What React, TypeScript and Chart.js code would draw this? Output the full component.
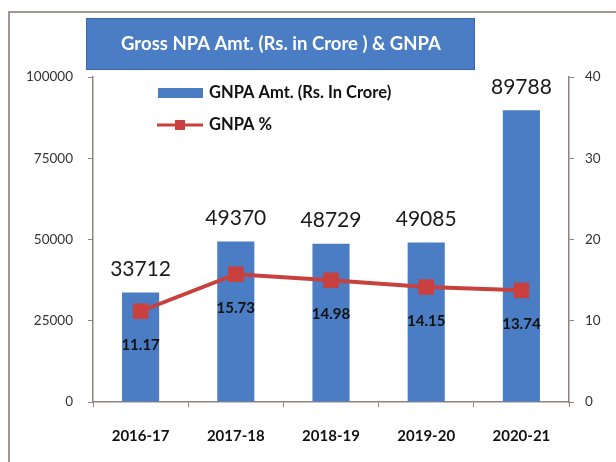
import React, { useEffect, useRef } from "react";
import { Chart, registerables } from "chart.js";

Chart.register(...registerables);

const categories = ["2016-17", "2017-18", "2018-19", "2019-20", "2020-21"];
const gnpaAmount = [33712, 49370, 48729, 49085, 89788];
const gnpaPercent = [11.17, 15.73, 14.98, 14.15, 13.74];
const leftTicks = [0, 25000, 50000, 75000, 100000];
const rightTicks = [0, 10, 20, 30, 40];

const titleText = "Gross NPA Amt. (Rs. in Crore ) & GNPA";
const legendBar = "GNPA Amt. (Rs. In Crore)";
const legendLine = "GNPA %";

const BLUE = "#4a7dc4";
const RED = "#c8413e";
const AXIS = "#8f8380";
const FONT = "Lato, 'Open Sans', sans-serif";

const decorPlugin = {
  id: "decor",
  beforeDraw(chart: any) {
    const ctx = chart.ctx;
    ctx.save();
    ctx.fillStyle = "#ffffff";
    ctx.fillRect(0, 0, chart.width, chart.height);
    // frame
    ctx.strokeStyle = "#a39592";
    ctx.lineWidth = 2;
    ctx.beginPath();
    ctx.moveTo(9, chart.height);
    ctx.lineTo(9, 12);
    ctx.lineTo(chart.width, 12);
    ctx.stroke();
    // title box
    ctx.fillStyle = BLUE;
    ctx.fillRect(86, 18, 389, 52);
    ctx.strokeStyle = "#3b68a8";
    ctx.lineWidth = 1;
    ctx.strokeRect(86.5, 18.5, 388, 51);
    ctx.fillStyle = "#ffffff";
    ctx.font = `bold 18.5px ${FONT}`;
    ctx.textAlign = "center";
    ctx.textBaseline = "middle";
    ctx.fillText(titleText, 281, 44);
    ctx.restore();
  },
  afterDraw(chart: any) {
    const ctx = chart.ctx;
    ctx.save();
    // legend
    ctx.fillStyle = BLUE;
    ctx.fillRect(158, 88, 45, 10);
    ctx.strokeStyle = RED;
    ctx.lineWidth = 3;
    ctx.beginPath();
    ctx.moveTo(157, 125);
    ctx.lineTo(203, 125);
    ctx.stroke();
    ctx.fillStyle = RED;
    ctx.fillRect(175, 120, 10, 10);
    ctx.fillStyle = "#111111";
    ctx.font = `bold 16.5px ${FONT}`;
    ctx.textAlign = "left";
    ctx.textBaseline = "middle";
    ctx.fillText(legendBar, 209, 93);
    ctx.fillText(legendLine, 209, 125);

    // data labels
    const barMeta = chart.getDatasetMeta(0);
    ctx.textAlign = "center";
    ctx.font = `21px ${FONT}`;
    ctx.fillStyle = "#1a1a1a";
    barMeta.data.forEach((el: any, i: number) => {
      ctx.fillText(String(gnpaAmount[i]), el.x, el.y - 23);
    });
    const lineMeta = chart.getDatasetMeta(1);
    ctx.font = `bold 15px ${FONT}`;
    ctx.fillStyle = "#111111";
    lineMeta.data.forEach((el: any, i: number) => {
      ctx.fillText(gnpaPercent[i].toFixed(2), el.x, el.y + 34);
    });
    ctx.restore();
  },
};

export default function App() {
  const ref = useRef<HTMLCanvasElement>(null);
  useEffect(() => {
    if (!ref.current) return;
    const chart = new Chart(ref.current, {
      type: "bar",
      data: {
        labels: categories,
        datasets: [
          {
            type: "bar",
            label: legendBar,
            data: gnpaAmount,
            backgroundColor: BLUE,
            yAxisID: "y",
            barPercentage: 0.39,
            categoryPercentage: 1,
            order: 2,
          },
          {
            type: "line",
            label: legendLine,
            data: gnpaPercent,
            borderColor: RED,
            backgroundColor: RED,
            borderWidth: 4,
            pointStyle: "rect",
            pointRadius: 11,
            pointBorderWidth: 0,
            pointBackgroundColor: RED,
            yAxisID: "y1",
            order: 1,
          } as any,
        ],
      },
      options: {
        responsive: true,
        maintainAspectRatio: false,
        animation: false,
        layout: { padding: { top: 77, left: 0, right: 0, bottom: 0 } },
        plugins: {
          legend: { display: false },
          title: { display: false },
          tooltip: { enabled: false },
        },
        scales: {
          x: {
            offset: true,
            grid: {
              offset: true,
              drawOnChartArea: false,
              drawTicks: true,
              tickLength: 5,
              color: AXIS,
            },
            border: { color: AXIS, width: 1.5 },
            ticks: {
              font: { family: FONT, size: 15, weight: "bold" },
              color: "#111111",
              padding: 20,
            },
            afterFit(scale: any) {
              scale.height = 60;
            },
          },
          y: {
            position: "left",
            min: 0,
            max: 100000,
            afterBuildTicks(scale: any) {
              scale.ticks = leftTicks.map((v) => ({ value: v }));
            },
            grid: {
              drawOnChartArea: false,
              drawTicks: true,
              tickLength: 5,
              color: AXIS,
            },
            border: { color: AXIS, width: 1.5 },
            ticks: {
              font: { family: FONT, size: 13.5 },
              color: "#333333",
              padding: 15,
              callback: (v: any) => String(v),
            },
            afterFit(scale: any) {
              scale.width = 93;
            },
          },
          y1: {
            position: "right",
            min: 0,
            max: 40,
            afterBuildTicks(scale: any) {
              scale.ticks = rightTicks.map((v) => ({ value: v }));
            },
            grid: {
              drawOnChartArea: false,
              drawTicks: true,
              tickLength: 5,
              color: AXIS,
            },
            border: { color: AXIS, width: 1.5 },
            ticks: {
              font: { family: FONT, size: 13.5 },
              color: "#333333",
              padding: 11,
              callback: (v: any) => String(v),
            },
            afterFit(scale: any) {
              scale.width = 47;
            },
          },
        },
      },
      plugins: [decorPlugin],
    });
    return () => chart.destroy();
  }, []);
  return (
    <div style={{ position: "fixed", left: 0, top: 0, width: 616, height: 462 }}>
      <canvas ref={ref} />
    </div>
  );
}
